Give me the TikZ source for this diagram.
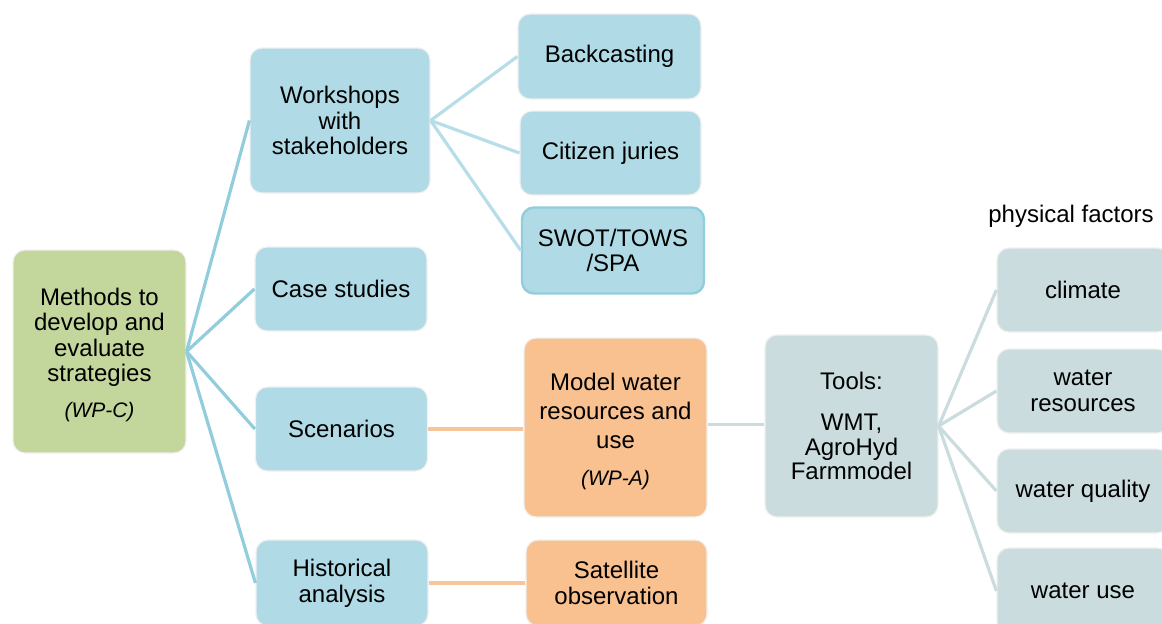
\documentclass[tikz,border=0pt]{standalone}
\usepackage{fontspec}
\setmainfont{Liberation Sans}
\usepackage{tikz}

\definecolor{mgreen}{HTML}{C3D69B}
\definecolor{mblue}{HTML}{B0DAE5}
\definecolor{morange}{HTML}{F9C090}
\definecolor{mgrey}{HTML}{CADCDE}
\definecolor{lblue}{HTML}{92CDDC}
\definecolor{lsub}{HTML}{B7DEE8}
\definecolor{lorange}{HTML}{F8C49A}
\definecolor{lgrey}{HTML}{CADCDE}
\newcommand{\wpfont}{\fontsize{10.5}{12}\selectfont\itshape}

\begin{document}
\begin{tikzpicture}[x=0.5pt, y=-0.5pt,
	box/.style={rounded corners=6pt, draw=black!6, line width=0.6pt, inner sep=0pt, align=center,
	  font=\fontsize{12}{12.8}\selectfont, minimum width=86pt, minimum height=42pt},
	link/.style={line width=1.6pt}]
	\clip (0,0) rectangle (1162,623);
	% left column
	\node[box, fill=mgreen, minimum width=86.5pt, minimum height=101.5pt] (meth) at (99.5,351.5)
	  {\rule{0pt}{12pt}Methods to\\develop and\\evaluate\\strategies\\[5pt]{\wpfont (WP-C)}};
	\node[box, fill=mblue, minimum width=90pt, minimum height=72.5pt] (work) at (340,120.5) {Workshops\\with\\stakeholders};
	\node[box, fill=mblue] (case) at (341,289) {Case studies};
	\node[box, fill=mblue] (scen) at (341.5,429) {Scenarios};
	\node[box, fill=mblue, minimum height=43pt] (hist) at (342,583) {Historical\\analysis};
	% workshop methods
	\node[box, fill=mblue, minimum width=91.5pt, minimum height=42.5pt] (back) at (609.5,56.5) {Backcasting};
	\node[box, fill=mblue, minimum width=90.5pt] (jury) at (610.5,153) {Citizen juries};
	\node[box, fill=mblue, draw=lblue, line width=1.2pt, minimum width=91pt, minimum height=43pt] (swot) at (613,250.5) {SWOT/TOWS\\/SPA};
	% models
	\node[box, fill=morange, minimum width=91.5pt, minimum height=89.5pt, font=\fontsize{12}{14.5}\selectfont] (model) at (615.5,427.5)
	  {\rule{0pt}{13pt}Model water\\resources and\\use\\[4pt]{\wpfont (WP-A)}};
	\node[box, fill=morange, minimum width=90.5pt, minimum height=43pt] (sat) at (616.5,583) {Satellite\\observation};
	\node[box, fill=mgrey, minimum width=86.5pt, minimum height=91pt, font=\fontsize{12}{12.3}\selectfont] (tools) at (851.5,426)
	  {Tools:\\[8.2pt]WMT,\\AgroHyd\\Farmmodel};
	% physical factors
	\node[font=\fontsize{12}{14}\selectfont] (phys) at (1071,216) {physical factors};
	\node[box, fill=mgrey] (clim) at (1083,290) {climate};
	\node[box, fill=mgrey] (wres) at (1083,391) {water\\resources};
	\node[box, fill=mgrey] (wqual) at (1083,491) {water quality};
	\node[box, fill=mgrey, minimum height=43pt] (wuse) at (1083,591) {water use};
	% connectors
	\draw[link, lblue] (meth.east) -- (work.west);
	\draw[link, lblue] (meth.east) -- (case.west);
	\draw[link, lblue] (meth.east) -- (scen.west);
	\draw[link, lblue] (meth.east) -- (hist.west);
	\draw[link, lsub] (work.east) -- (back.west);
	\draw[link, lsub] (work.east) -- (jury.west);
	\draw[link, lsub] (work.east) -- (swot.west);
	\draw[link, lorange] (scen.east) -- (model.west |- scen.east);
	\draw[link, lorange] (hist.east) -- (sat.west);
	\draw[link, lgrey] ([yshift=1.5pt]model.east) -- ([yshift=1.5pt]model.east -| tools.west);
	\draw[link, lgrey] (tools.east) -- (clim.west);
	\draw[link, lgrey] (tools.east) -- (wres.west);
	\draw[link, lgrey] (tools.east) -- (wqual.west);
	\draw[link, lgrey] (tools.east) -- (wuse.west);
\end{tikzpicture}
\end{document}
